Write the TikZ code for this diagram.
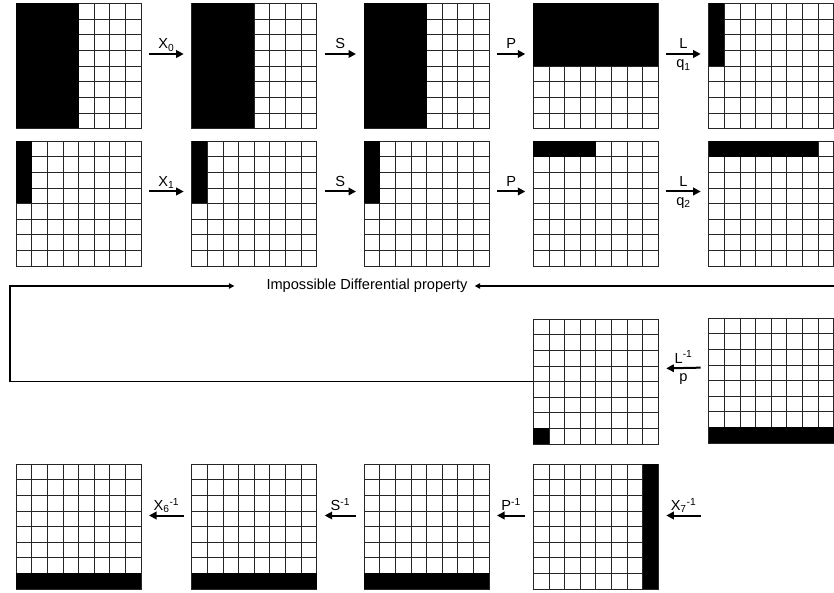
\documentclass[tikz,border=0pt]{standalone}
\usepackage{fontspec}
\setmainfont{Liberation Sans}
\usetikzlibrary{arrows.meta}
\newcommand{\pCellW}{15.625pt}
\newcommand{\pStateGrid}[4]{%
  \node[stategrid, anchor=north west] (#1) at (#2,#3) {};
  \foreach \k in {1,...,7} {
    \draw[gridline] ([xshift=\k*\pCellW]#1.north west) -- ([xshift=\k*\pCellW]#1.south west);
    \draw[gridline] ([yshift=-\k*\pCellW]#1.north west) -- ([yshift=-\k*\pCellW]#1.north east);
  }
  \foreach \ca/\ra/\cb/\rb in {#4}
    \fill ([shift={(\ca*\pCellW,-\ra*\pCellW)}]#1.north west) rectangle ([shift={(\cb*\pCellW,-\rb*\pCellW)}]#1.north west);%
}
\tikzset{
  stategrid/.style={draw=black!85, line width=0.7pt, minimum width=125pt, minimum height=125pt, inner sep=0pt, outer sep=0pt},
  gridline/.style={draw=black!85, line width=0.7pt},
  flow/.style={line width=2pt, -{Triangle[length=7.5pt,width=7.5pt]}, shorten <=8pt, shorten >=8pt},
  loopline/.style={line width=1.3pt, -{Triangle[length=5.5pt,width=5.5pt]}},
  lbl/.style={anchor=base, yshift=5pt, inner sep=0pt},
  lblb/.style={anchor=north, yshift=-5pt, inner sep=0pt}
}

\begin{document}
\begin{tikzpicture}[x=1pt,y=-1pt,font=\fontsize{14.6}{17}\selectfont]
\useasboundingbox (0,0) rectangle (834,593);
\pStateGrid{s11}{16}{3.5}{0/0/4/8}
\pStateGrid{s12}{191.7}{3.5}{0/0/4/8}
\pStateGrid{s13}{364}{3.5}{0/0/4/8}
\pStateGrid{s14}{533.3}{3.5}{0/0/8/4}
\pStateGrid{s15}{708.7}{3.5}{0/0/1/4}
\pStateGrid{s21}{16}{141}{0/0/1/4}
\pStateGrid{s22}{191.7}{141}{0/0/1/4}
\pStateGrid{s23}{364}{141}{0/0/1/4}
\pStateGrid{s24}{533.3}{141}{0/0/4/1}
\pStateGrid{s25}{708.7}{141}{0/0/7/1}
\pStateGrid{s34}{533.3}{319}{0/7/1/8}
\pStateGrid{s35}{708.7}{318}{0/7/8/8}
\pStateGrid{s41}{16}{464}{0/7/8/8}
\pStateGrid{s42}{191.7}{464}{0/7/8/8}
\pStateGrid{s43}{364}{464}{0/7/8/8}
\pStateGrid{s44}{533.3}{464}{7/0/8/8}
\coordinate (x7in) at (708.7,526.5);
\coordinate (loopc) at (10,286);
\coordinate (edgeR) at (840,286);
\node[inner sep=0pt] (prop) at (367,286) {Impossible Differential property};

\draw[flow] ([yshift=12pt]s11.east) -- ([yshift=12pt]s12.west) node[midway, lbl] {X\textsubscript{0}};
\draw[flow] ([yshift=12pt]s12.east) -- ([yshift=12pt]s13.west) node[midway, lbl] {S};
\draw[flow] ([yshift=12pt]s13.east) -- ([yshift=12pt]s14.west) node[midway, lbl] {P};
\draw[flow] ([yshift=12pt]s14.east) -- ([yshift=12pt]s15.west) node[midway, lbl] {L} node[midway, lblb] {q\textsubscript{1}};
\draw[flow] ([yshift=12pt]s21.east) -- ([yshift=12pt]s22.west) node[midway, lbl] {X\textsubscript{1}};
\draw[flow] ([yshift=12pt]s22.east) -- ([yshift=12pt]s23.west) node[midway, lbl] {S};
\draw[flow] ([yshift=12pt]s23.east) -- ([yshift=12pt]s24.west) node[midway, lbl] {P};
\draw[flow] ([yshift=12pt]s24.east) -- ([yshift=12pt]s25.west) node[midway, lbl] {L} node[midway, lblb] {q\textsubscript{2}};
\draw[flow] ([yshift=13pt]s35.west) -- ([yshift=13pt]s34.east) node[midway, lbl] {L\textsuperscript{-1}} node[midway, lblb] {p};
\draw[flow] ([yshift=11pt]x7in) -- ([yshift=11pt]s44.east) node[midway, lbl] {X\textsubscript{7}\textsuperscript{-1}};
\draw[flow] ([yshift=11pt]s44.west) -- ([yshift=11pt]s43.east) node[midway, lbl] {P\textsuperscript{-1}};
\draw[flow] ([yshift=11pt]s43.west) -- ([yshift=11pt]s42.east) node[midway, lbl] {S\textsuperscript{-1}};
\draw[flow] ([yshift=11pt]s42.west) -- ([yshift=11pt]s41.east) node[midway, lbl] {X\textsubscript{6}\textsuperscript{-1}};

\draw[loopline] (s34.west) -| (loopc) -- ([xshift=-32pt]prop.west);
\draw[loopline] (edgeR) -- ([xshift=7pt]prop.east);
\end{tikzpicture}
\end{document}
